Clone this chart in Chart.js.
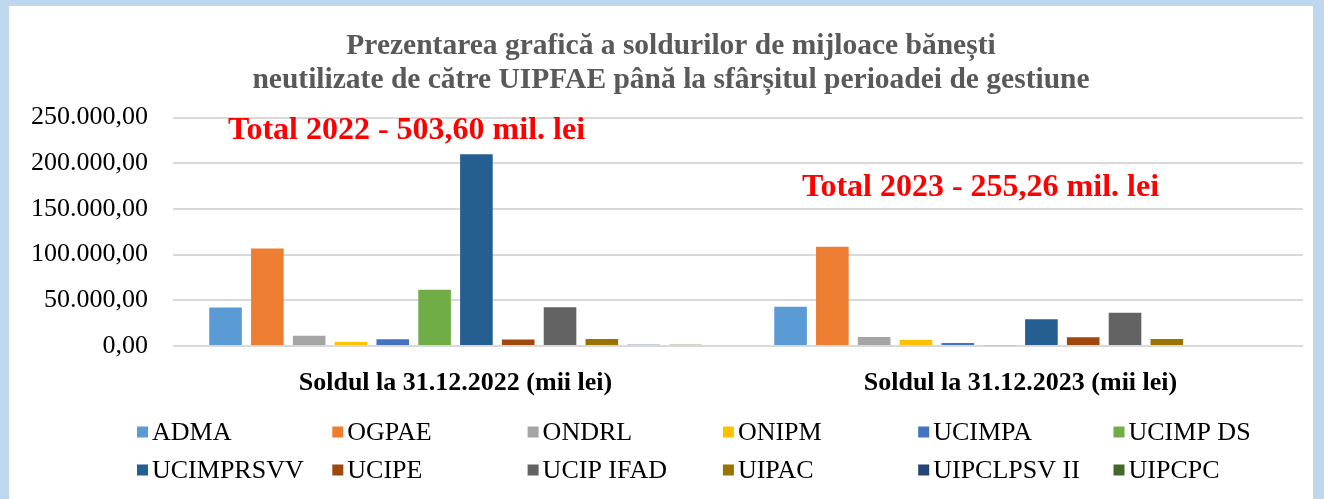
<!DOCTYPE html>
<html>
<head>
<meta charset="utf-8">
<script src="https://cdn.jsdelivr.net/npm/chart.js@4/dist/chart.umd.min.js"></script>
<style>
    body { margin: 0; background: #bdd7ee; width: 1324px; height: 499px; overflow: hidden; }
    #box { position: absolute; left: 9px; top: 6px; width: 1304px; height: 493px; background: #fff; }
</style>
</head>
<body>
<div id="box"><canvas id="soldChart" width="1304" height="493"></canvas></div>
<script>
// date (mii lei)
let categories = ["Soldul la 31.12.2022 (mii lei)", "Soldul la 31.12.2023 (mii lei)"];
let units = ["ADMA", "OGPAE", "ONDRL", "ONIPM", "UCIMPA", "UCIMP DS",
             "UCIMPRSVV", "UCIPE", "UCIP IFAD", "UIPAC", "UIPCLPSV II", "UIPCPC"];
let sold2022 = [42100, 106600, 11300, 4400, 7400, 61500, 209900, 7000, 42500, 7700, 1500, 1500];
let sold2023 = [42900, 108500, 9900, 6600, 3300, 800, 29300, 9500, 36300, 7700, 0, 0];
let colors = ["#5b9bd5", "#ed7d31", "#a5a5a5", "#ffc000", "#4472c4", "#70ad47",
              "#255e91", "#9e480e", "#636363", "#997300", "#264478", "#43682b"];
let yTicks = [0, 50000, 100000, 150000, 200000, 250000];
let totals = ["Total 2022 - 503,60 mil. lei", "Total 2023 - 255,26 mil. lei"];
let titleLines = ["Prezentarea grafică a soldurilor de mijloace bănești",
                  "neutilizate de către UIPFAE până la sfârșitul perioadei de gestiune"];

const FONT = "'Liberation Serif', 'Times New Roman', serif";

function formatLei(v) {
    let s = Math.round(v).toString().replace(/\B(?=(\d{3})+(?!\d))/g, ".");
    return s + ",00";
}

// titlul pe doua randuri (centrat putin la dreapta, ca in original)
const chartTitle = {
    id: "chartTitle",
    afterDraw(chart) {
        let ctx = chart.ctx;
        ctx.save();
        ctx.font = "bold 29.5px " + FONT;
        ctx.fillStyle = "#595959";
        ctx.textAlign = "center";
        ctx.textBaseline = "alphabetic";
        titleLines.forEach((line, i) => {
            ctx.fillText(line, 662, 47.5 + i * 34);
        });
        ctx.restore();
    }
};

// textele rosii cu totalurile
const totalLabels = {
    id: "totalLabels",
    afterDatasetsDraw(chart) {
        let ctx = chart.ctx;
        let x = chart.scales.x, y = chart.scales.y;
        let pos = [{ dx: -49, v: 227000 }, { dx: -40, v: 164000 }];
        ctx.save();
        ctx.font = "bold 32px " + FONT;
        ctx.fillStyle = "#ff0000";
        ctx.textAlign = "center";
        ctx.textBaseline = "alphabetic";
        totals.forEach((t, i) => {
            ctx.fillText(t, x.getPixelForValue(i) + pos[i].dx, y.getPixelForValue(pos[i].v));
        });
        ctx.restore();
    }
};

// legenda pe coloane, ca in Excel
const gridLegend = {
    id: "gridLegend",
    afterDraw(chart) {
        let ctx = chart.ctx;
        ctx.save();
        ctx.font = "26px " + FONT;
        ctx.textBaseline = "middle";
        ctx.textAlign = "left";
        chart.data.datasets.forEach((ds, i) => {
            let col = i % 6;
            let row = Math.floor(i / 6);
            let bx = 128 + col * 195.3;
            let by = 426 + row * 38;
            ctx.fillStyle = ds.backgroundColor;
            ctx.fillRect(bx, by - 5.5, 11, 11);
            ctx.fillStyle = "#000";
            ctx.fillText(ds.label, bx + 15, by + 1);
        });
        ctx.restore();
    }
};

let datasets = units.map((u, i) => ({
    label: u,
    data: [sold2022[i], sold2023[i]],
    backgroundColor: colors[i],
    borderWidth: 0,
    categoryPercentage: 0.888,
    barPercentage: 0.78
}));

let ctx = document.getElementById("soldChart").getContext("2d");
window.soldChart = new Chart(ctx, {
    type: "bar",
    data: { labels: categories, datasets: datasets },
    options: {
        responsive: false,
        animation: false,
        devicePixelRatio: 1,
        layout: { padding: { top: 111.5, left: 0, right: 10, bottom: 83 } },
        plugins: {
            legend: { display: false },
            tooltip: { enabled: false },
            title: { display: false }
        },
        scales: {
            x: {
                grid: { display: false },
                border: { display: false },
                ticks: {
                    color: "#000",
                    padding: 14,
                    font: { family: FONT, size: 26, weight: "bold" }
                },
                afterFit(scale) { scale.height = 70; }
            },
            y: {
                min: 0,
                max: 250000,
                afterBuildTicks(scale) { scale.ticks = yTicks.map(v => ({ value: v })); },
                grid: { color: "#d9d9d9", lineWidth: 2, drawTicks: false },
                border: { display: false },
                ticks: {
                    color: "#000",
                    padding: 25,
                    font: { family: FONT, size: 26 },
                    callback: v => formatLei(v)
                },
                afterFit(scale) { scale.width = 164; }
            }
        }
    },
    plugins: [chartTitle, totalLabels, gridLegend]
});
</script>
</body>
</html>
